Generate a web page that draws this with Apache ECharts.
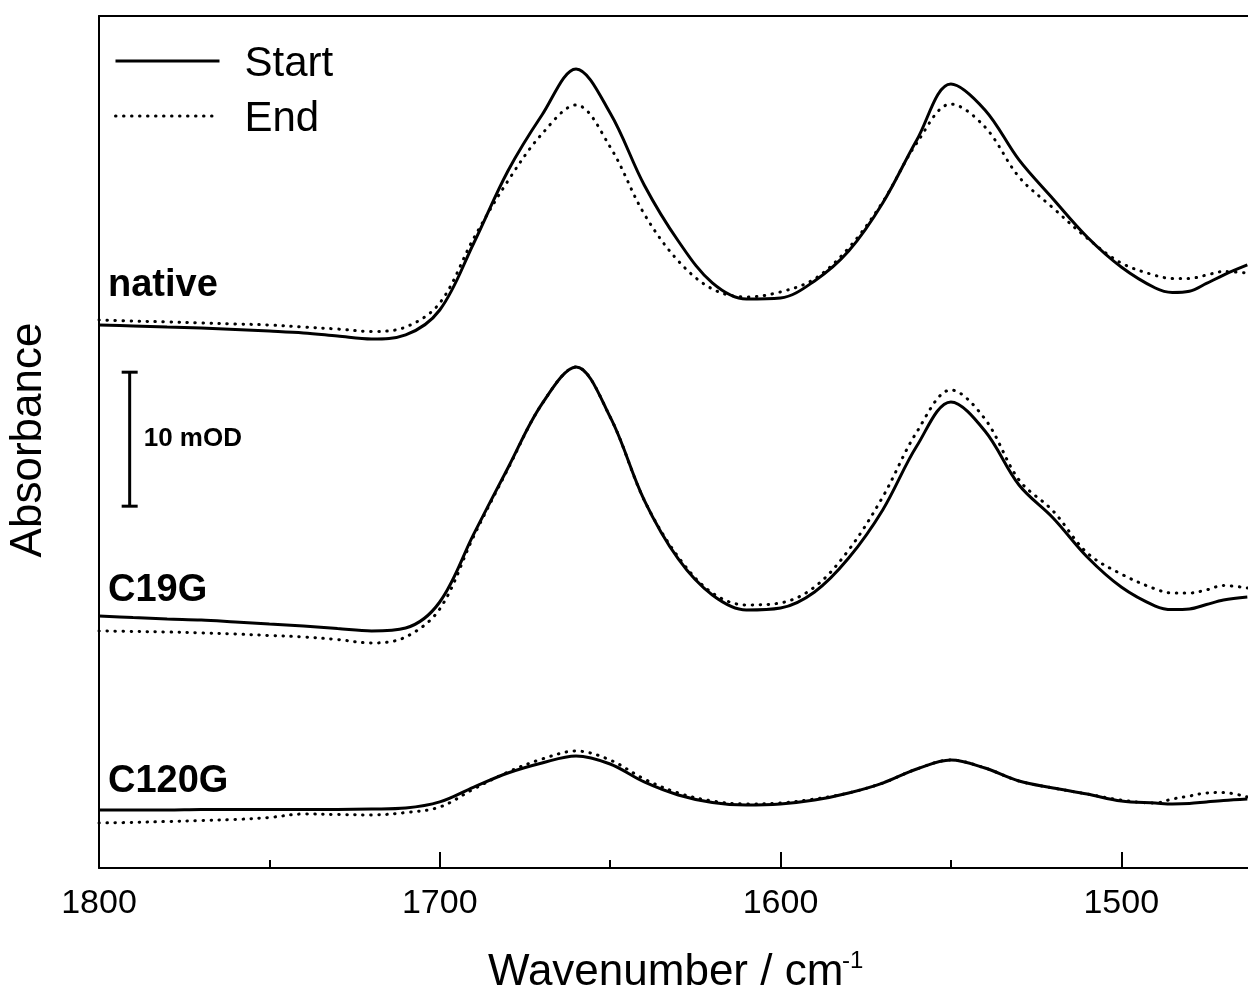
<!DOCTYPE html>
<html>
<head>
<meta charset="utf-8">
<script src="https://cdn.jsdelivr.net/npm/echarts@6/dist/echarts.min.js"></script>
<style>
  html, body { margin: 0; padding: 0; background: #fff; }
  #chart { width: 1248px; height: 992px; }
</style>
</head>
<body>
<div id="chart"></div>
<script>
// Wavenumber grid (cm^-1), shared by all spectra
const wavenumbers = [1800, 1790, 1780, 1770, 1760, 1750, 1740, 1730, 1720, 1710,
  1700, 1690, 1680, 1670, 1660, 1650, 1640, 1630, 1620, 1610,
  1600, 1590, 1580, 1570, 1560, 1550, 1540, 1530, 1520, 1510,
  1500, 1490, 1485, 1480, 1475, 1470, 1463];

// Absorbance in mOD, spectra stacked with vertical offsets
const nativeStart = [40.52, 40.45, 40.37, 40.30, 40.19, 40.07, 39.93, 39.70, 39.48, 39.78,
  41.64, 46.64, 52.01, 56.19, 59.63, 56.34, 50.97, 46.79, 43.66, 42.46,
  42.54, 43.81, 46.04, 49.63, 54.33, 58.51, 56.57, 52.84, 49.93, 47.09,
  44.85, 43.28, 42.95, 43.04, 43.62, 44.25, 45.00];
const nativeEnd = [40.90, 40.82, 40.75, 40.67, 40.60, 40.52, 40.37, 40.22, 40.04, 40.37,
  42.16, 47.01, 51.27, 54.78, 56.94, 53.81, 48.81, 45.30, 43.21, 42.61,
  42.99, 43.96, 46.27, 49.70, 54.10, 57.01, 55.30, 51.57, 49.25, 47.00,
  45.15, 44.22, 44.00, 44.00, 44.25, 44.51, 44.40];
const c19gStart = [18.81, 18.69, 18.58, 18.51, 18.36, 18.21, 18.06, 17.87, 17.69, 17.91,
  19.85, 24.93, 29.85, 34.63, 37.39, 33.66, 27.46, 23.06, 20.37, 19.25,
  19.40, 20.60, 23.13, 26.72, 31.49, 34.78, 32.61, 28.58, 26.12, 23.21,
  20.97, 19.55, 19.29, 19.33, 19.66, 20.00, 20.22];
const c19gEnd = [17.69, 17.65, 17.61, 17.54, 17.46, 17.35, 17.24, 17.05, 16.79, 17.24,
  19.33, 24.78, 29.78, 34.63, 37.39, 33.66, 27.46, 23.21, 20.52, 19.63,
  19.78, 20.97, 23.73, 27.69, 32.54, 35.67, 33.51, 28.96, 26.64, 23.51,
  21.94, 20.82, 20.52, 20.52, 20.75, 21.08, 20.90];
const c120gStart = [4.33, 4.33, 4.33, 4.37, 4.37, 4.37, 4.37, 4.37, 4.40, 4.48,
  4.93, 6.04, 7.09, 7.84, 8.36, 7.76, 6.42, 5.45, 4.89, 4.70,
  4.78, 5.07, 5.60, 6.34, 7.39, 8.06, 7.46, 6.49, 5.97, 5.52,
  5.00, 4.85, 4.78, 4.81, 4.93, 5.04, 5.15];
const c120gEnd = [3.36, 3.40, 3.47, 3.54, 3.62, 3.77, 4.03, 3.99, 3.96, 4.14,
  4.55, 5.90, 7.16, 8.13, 8.73, 8.06, 6.64, 5.60, 5.00, 4.78,
  4.85, 5.15, 5.60, 6.34, 7.39, 8.06, 7.46, 6.49, 5.97, 5.52,
  5.07, 4.85, 5.15, 5.37, 5.60, 5.63, 5.30];

const sampleNames = ['native', 'C19G', 'C120G'];
const legendNames = ['Start', 'End'];

// Scale bar: position (cm^-1), lower end and span (mOD)
const scaleBarAt = 1791;
const scaleBarFrom = 27;
const scaleBarSpan = 10;
const scaleBarLabel = scaleBarSpan + ' mOD';

const FONT = '"Liberation Sans", Arial, Helvetica, sans-serif';
const chart = echarts.init(document.getElementById('chart'), null, { renderer: 'canvas' });

const pairs = ys => wavenumbers.map((w, i) => [w, ys[i]]);
const solidStyle = { color: '#000', width: 3, type: 'solid' };
const dottedStyle = { color: '#000', width: 3, type: [0.5, 7.5], cap: 'round' };

function spectrum(name, ys, style, z) {
  return {
    name: name,
    type: 'line',
    data: pairs(ys),
    symbol: 'none',
    smooth: 0.35,
    lineStyle: style,
    itemStyle: { color: '#000' },
    z: z,
    silent: true
  };
}

const option = {
  animation: false,
  backgroundColor: '#fff',
  grid: { left: 99, top: 16, bottom: 124, right: -214, outerBoundsMode: 'none', containLabel: false },
  legend: {
    data: legendNames,
    orient: 'vertical',
    left: 114,
    top: 37,
    padding: 0,
    itemWidth: 104,
    itemHeight: 14,
    itemGap: 7,
    selectedMode: false,
    itemStyle: { opacity: 0, color: 'rgba(0,0,0,0)', borderWidth: 0 },
    lineStyle: { width: 3 },
    formatter: '{t|{name}}',
    textStyle: {
      fontFamily: FONT, fontSize: 42, color: '#000',
      rich: { t: { fontFamily: FONT, fontSize: 42, color: '#000', lineHeight: 42, padding: [6, 0, 0, 20] } }
    }
  },
  xAxis: [
    {
      type: 'value',
      inverse: true,
      min: 1400,
      max: 1800,
      interval: 100,
      position: 'bottom',
      axisLine: { show: true, lineStyle: { color: '#000', width: 2 } },
      axisTick: { show: true, inside: true, length: 16, lineStyle: { color: '#000', width: 2 } },
      minorTick: { show: true, splitNumber: 2, length: 8, lineStyle: { color: '#000', width: 2 } },
      splitLine: { show: false },
      axisLabel: { color: '#000', fontFamily: FONT, fontSize: 34, margin: 19, formatter: v => String(v) }
    },
    {
      type: 'value',
      inverse: true,
      min: 1400,
      max: 1800,
      position: 'top',
      axisLine: { show: true, lineStyle: { color: '#000', width: 2 } },
      axisTick: { show: false },
      axisLabel: { show: false },
      splitLine: { show: false }
    }
  ],
  yAxis: {
    type: 'value',
    min: 0,
    max: 63.58,
    axisLine: { show: true, lineStyle: { color: '#000', width: 2 } },
    axisTick: { show: false },
    axisLabel: { show: false },
    splitLine: { show: false }
  },
  series: [
    spectrum('End', nativeEnd, dottedStyle, 2),
    spectrum('Start', nativeStart, solidStyle, 3),
    spectrum('End', c19gEnd, dottedStyle, 2),
    spectrum('Start', c19gStart, solidStyle, 3),
    spectrum('End', c120gEnd, dottedStyle, 2),
    spectrum('Start', c120gStart, solidStyle, 3),
    {
      type: 'custom',
      name: 'scale',
      silent: true,
      data: [[scaleBarAt, scaleBarFrom, scaleBarFrom + scaleBarSpan]],
      encode: { x: 0, y: [1, 2] },
      renderItem: function (params, api) {
        const top = api.coord([api.value(0), api.value(2)]);
        const bot = api.coord([api.value(0), api.value(1)]);
        const hw = 8;
        const st = { stroke: '#000', lineWidth: 3 };
        return {
          type: 'group',
          children: [
            { type: 'line', shape: { x1: top[0], y1: top[1], x2: bot[0], y2: bot[1] }, style: st },
            { type: 'line', shape: { x1: top[0] - hw, y1: top[1], x2: top[0] + hw, y2: top[1] }, style: st },
            { type: 'line', shape: { x1: bot[0] - hw, y1: bot[1], x2: bot[0] + hw, y2: bot[1] }, style: st },
            {
              type: 'text',
              x: top[0] + 14,
              y: (top[1] + bot[1]) / 2,
              style: {
                text: scaleBarLabel, fill: '#000', fontFamily: FONT, fontSize: 26, fontWeight: 'bold',
                align: 'left', verticalAlign: 'middle'
              }
            }
          ]
        };
      }
    }
  ],
  graphic: [
    { type: 'text', x: 108, y: 286, style: { text: sampleNames[0], fill: '#000', fontFamily: FONT, fontSize: 38, fontWeight: 'bold', align: 'left', verticalAlign: 'middle' } },
    { type: 'text', x: 108, y: 591, style: { text: sampleNames[1], fill: '#000', fontFamily: FONT, fontSize: 38, fontWeight: 'bold', align: 'left', verticalAlign: 'middle' } },
    { type: 'text', x: 108, y: 782, style: { text: sampleNames[2], fill: '#000', fontFamily: FONT, fontSize: 38, fontWeight: 'bold', align: 'left', verticalAlign: 'middle' } },
    { type: 'text', x: 29, y: 440, rotation: Math.PI / 2, style: { text: 'Absorbance', fill: '#000', fontFamily: FONT, fontSize: 44, align: 'center', verticalAlign: 'middle' } },
    { type: 'text', x: 488, y: 973, style: { text: 'Wavenumber / cm', fill: '#000', fontFamily: FONT, fontSize: 44, align: 'left', verticalAlign: 'middle' } },
    { type: 'text', x: 842, y: 961, style: { text: '-1', fill: '#000', fontFamily: FONT, fontSize: 24, align: 'left', verticalAlign: 'middle' } }
  ]
};

chart.setOption(option);
</script>
</body>
</html>
